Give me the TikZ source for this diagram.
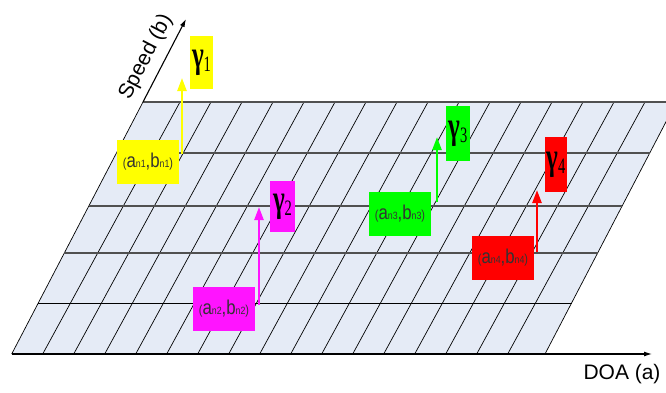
\documentclass[tikz,border=0pt]{standalone}
\usepackage{fontspec}
\setmainfont{Liberation Sans}
\newfontfamily\labelfont[FakeStretch=0.84]{Liberation Sans}
\newfontfamily\greekfont[FakeStretch=0.66]{Liberation Serif}
\usetikzlibrary{arrows.meta}
\definecolor{gridFill}{HTML}{E5EBF6}
\definecolor{gridGray}{HTML}{505050}
\definecolor{tgtYellow}{HTML}{FFFF00}
\definecolor{tgtMagenta}{HTML}{FF14FF}
\definecolor{tgtGreen}{HTML}{00FF00}
\definecolor{tgtRed}{HTML}{FF0000}
\newcommand{\anbn}[1]{{\fontsize{13}{13}\selectfont(}a{\fontsize{10.5}{10.5}\selectfont n#1},b{\fontsize{10.5}{10.5}\selectfont n#1}{\fontsize{13}{13}\selectfont)}}
\newcommand{\gam}[1]{{\greekfont\bfseries\fontsize{38}{38}\selectfont γ}{\greekfont\fontsize{22}{22}\selectfont\raisebox{-4pt}{#1}}}

\begin{document}
\begin{tikzpicture}[
  x=1pt, y=-1pt,
  gridline/.style={black, line width=0.7pt},
  rowline/.style={gridGray, line width=1.7pt},
  axis/.style={black, line width=1.1pt, -{Latex[length=8pt,width=5pt]}},
  posbox/.style={minimum width=62pt, minimum height=44pt, inner sep=0pt,
                 font=\labelfont\fontsize{20}{20}\selectfont, text=black!80},
  gambox/.style={minimum width=23pt, minimum height=53pt, inner sep=0pt},
  tgtarrow/.style={line width=2.4pt, -{Triangle[length=13pt,width=9pt]}},
]
  \useasboundingbox (0,0) rectangle (666,392);
  \coordinate (origin) at (11.7,354);
  \coordinate (corner) at (143,102);

  % grid plane
  \begin{scope}
    \clip (0,0) rectangle (666,392);
    \fill[gridFill] (origin) -- (545,354) -- (676.3,102) -- (corner) -- cycle;
    \foreach \k in {0,...,15}
      \draw[gridline] ({42.7+31*\k},354) -- ({180+31*\k},102);
    \draw[gridline] (origin) -- (corner);
    \draw[gridline] (545,354) -- (676.3,102);
    \foreach \y in {102,153,206,253}
      \draw[rowline] ({11.7+(354-\y)*0.521},\y) -- ({545+(354-\y)*0.521},\y);
    \draw[black, line width=1pt] ({11.7+51*0.521},303) -- ({545+51*0.521},303);
  \end{scope}

  % axes
  \coordinate (doatip) at (652,354);
  \coordinate (speedtip) at (186,19);
  \draw[axis] (origin) -- (doatip);
  \draw[axis] (corner) -- (speedtip);
  \node[rotate=62.6, font=\fontsize{21}{21}\selectfont] (speedlabel) at (146,57) {Speed (b)};
  \node[font=\fontsize{21}{21}\selectfont] (doalabel) at (622,374) {DOA (a)};

  % targets
  \node[posbox, fill=tgtYellow]  (pos1) at (148,161.5) {\anbn{1}};
  \node[gambox, fill=tgtYellow]  (gam1) at (201.5,62.5) {\gam{1}};
  \node[posbox, fill=tgtMagenta] (pos2) at (224,309) {\anbn{2}};
  \node[gambox, fill=tgtMagenta, minimum width=25pt, minimum height=51pt] (gam2) at (282.5,206.5) {\gam{2}};
  \node[posbox, fill=tgtGreen]   (pos3) at (400,214) {\anbn{3}};
  \node[gambox, fill=tgtGreen, minimum width=24pt, minimum height=55pt] (gam3) at (458,133.5) {\gam{3}};
  \node[posbox, fill=tgtRed]     (pos4) at (503,258) {\anbn{4}};
  \node[gambox, fill=tgtRed, minimum width=22pt, minimum height=55pt] (gam4) at (556,164.5) {\gam{4}};

  \coordinate (s1) at (182,154);  \coordinate (e1) at (182,78);
  \coordinate (s2) at (259,305);  \coordinate (e2) at (259,207);
  \coordinate (s3) at (437,202);  \coordinate (e3) at (437,137);
  \coordinate (s4) at (537,252);  \coordinate (e4) at (537,190);
  \draw[tgtarrow, tgtYellow]  (s1) -- (e1);
  \draw[tgtarrow, tgtMagenta] (s2) -- (e2);
  \draw[tgtarrow, tgtGreen]   (s3) -- (e3);
  \draw[tgtarrow, tgtRed]     (s4) -- (e4);
\end{tikzpicture}
\end{document}
